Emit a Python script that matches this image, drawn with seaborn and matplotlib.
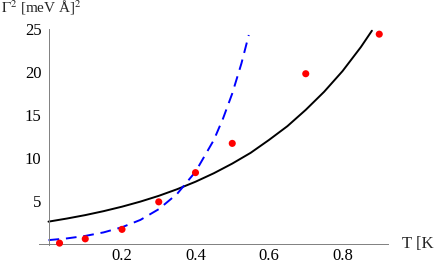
import numpy as np
import pandas as pd
import matplotlib
matplotlib.use("Agg")
import matplotlib.pyplot as plt
import matplotlib.ticker as mticker
import seaborn as sns

# measured points
T_data = [0.03, 0.1, 0.2, 0.3, 0.4, 0.5, 0.7, 0.9]
G2_data = [0.1, 0.6, 1.7, 4.9, 8.3, 11.7, 19.8, 24.4]

# black solid curve
T_solid = [0.0, 0.05, 0.1, 0.15, 0.2, 0.25, 0.3, 0.35, 0.4, 0.45, 0.5,
           0.55, 0.6, 0.65, 0.7, 0.75, 0.8, 0.85, 0.88]
G2_solid = [2.60, 2.96, 3.36, 3.82, 4.34, 4.93, 5.60, 6.37, 7.24, 8.23, 9.35,
            10.6, 12.1, 13.7, 15.6, 17.7, 20.1, 22.9, 24.8]

# blue dashed curve
T_dash = [0.0, 0.05, 0.1, 0.15, 0.2, 0.25, 0.3, 0.35, 0.4, 0.45, 0.475,
          0.5, 0.525, 0.545]
G2_dash = [0.45, 0.65, 0.94, 1.35, 1.95, 2.80, 4.05, 5.83, 8.4, 12.1, 14.6,
           17.5, 21.0, 24.3]

x_ticks = [0.2, 0.4, 0.6, 0.8]
y_ticks = [5, 10, 15, 20, 25]

sns.set_style("white")
plt.rcParams["font.family"] = ["Liberation Serif", "DejaVu Serif"]
plt.rcParams["mathtext.fontset"] = "stix"

fig = plt.figure(figsize=(4.36, 2.65), dpi=100)
ax = fig.add_axes([11.75 / 436, (265 - 252.6) / 265, 404.25 / 436, 240.8 / 265])

sns.lineplot(x=T_solid, y=G2_solid, ax=ax, color="black", linewidth=1.4,
             sort=False, estimator=None)
sns.lineplot(x=T_dash, y=G2_dash, ax=ax, color="#0000ff", linewidth=1.4,
             sort=False, estimator=None, linestyle=(0, (5.5, 3.5)))
sns.scatterplot(x=T_data, y=G2_data, ax=ax, color="#ff0000", s=26,
                edgecolor="none", zorder=5, clip_on=False)

ax.set_xlim(-0.1, 1.0)
ax.set_ylim(-1, 27)

# Mathematica-style axes through the origin
for s in ["top", "right"]:
    ax.spines[s].set_visible(False)
ax.spines["left"].set_position(("data", 0))
ax.spines["bottom"].set_position(("data", 0))
ax.spines["left"].set_bounds(-0.1, 25)
ax.spines["bottom"].set_bounds(-0.025, 0.924)
for s in ["left", "bottom"]:
    ax.spines[s].set_color("#808080")
    ax.spines[s].set_linewidth(0.7)

ax.set_xticks(x_ticks)
ax.set_xticklabels(["0.2", "0.4", "0.6", "0.8"])
ax.set_yticks(y_ticks)
ax.set_yticklabels([str(v) for v in y_ticks])
ax.xaxis.set_minor_locator(mticker.FixedLocator(
    [v for v in np.arange(0.05, 0.91, 0.05) if round(v * 20) % 4 != 0]))
ax.yaxis.set_minor_locator(mticker.FixedLocator(
    [v for v in range(1, 25) if v % 5 != 0]))
ax.tick_params(which="both", direction="in", color="#808080", width=0.6,
               labelsize=12, labelcolor="black")
ax.tick_params(which="major", length=3.5)
ax.tick_params(which="minor", length=2)
ax.tick_params(axis="x", pad=3)
ax.tick_params(axis="y", pad=5)
ax.set_xlabel("")
ax.set_ylabel("")
ax.grid(False)

fig.text(0.003, 0.952, r"$\Gamma^2$ [meV Å]$^2$", fontsize=11, va="baseline", ha="left")
fig.text(0.921, 0.064, "T [K", fontsize=12, va="baseline", ha="left")

fig.savefig("out.png", dpi=100)
plt.close(fig)
